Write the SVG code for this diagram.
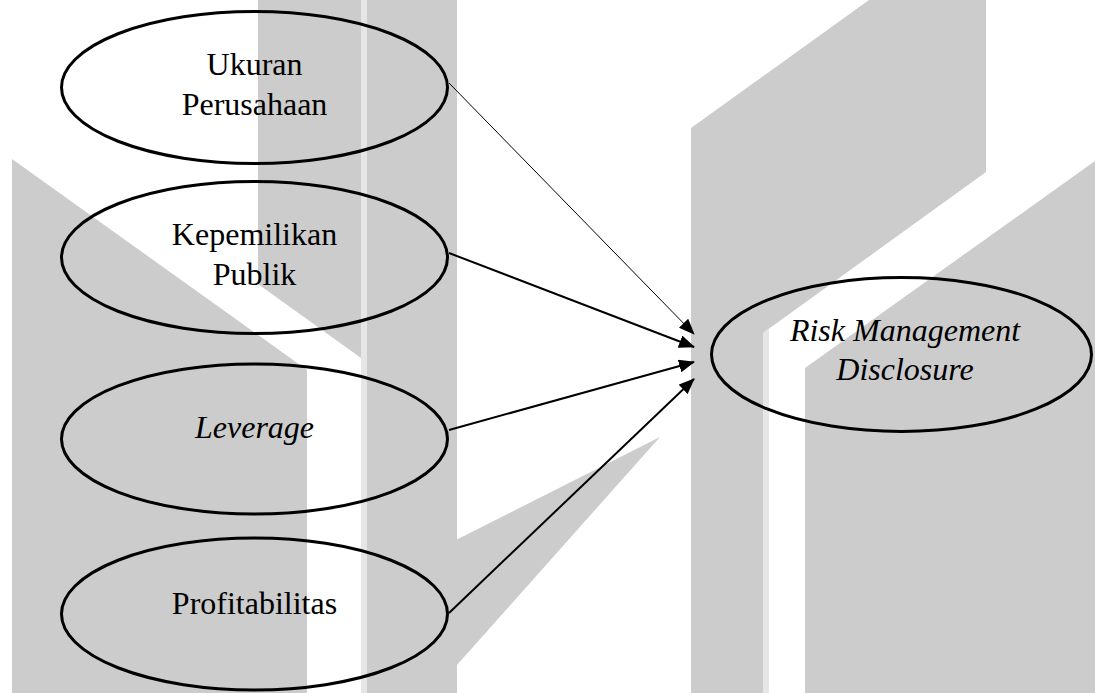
<svg xmlns="http://www.w3.org/2000/svg" width="1095" height="693" viewBox="0 0 1095 693">
<style>
.bg{fill:#cccccc;stroke:none}
.bgl{fill:#e6e6e6;stroke:none}
.node ellipse{fill:none;stroke:#000;stroke-width:3}
.node text{font-family:"Liberation Serif","Times New Roman",serif;font-size:32px;fill:#000;text-anchor:middle}
.it{font-style:italic}
.edge{stroke:#000;fill:none}
</style>
<defs>
<marker id="arr" markerUnits="userSpaceOnUse" markerWidth="16" markerHeight="13" refX="15" refY="6.5" orient="auto">
<path d="M0,0 L16,6.5 L0,13 z" fill="#000"/>
</marker>
</defs>
<rect width="1095" height="693" fill="#fff"/>
<g id="watermark">
<polygon class="bg" points="12,159 307,370 307,693 12,693"/>
<polygon class="bg" points="258,0 361,0 361,358 258,284"/>
<rect class="bgl" x="361" y="0" width="6" height="693"/>
<rect class="bg" x="367" y="0" width="90" height="693"/>
<polygon class="bg" points="456,540 660,437 456,666"/>
<polygon class="bg" points="691,128 869,0 986,0 986,172 763,333 763,693 691,693"/>
<polygon class="bgl" points="763,333 769,329 769,693 763,693"/>
<polygon class="bg" points="805,368 1095,161 1095,693 805,693"/>
</g>
<g id="connectors">
<line class="edge" x1="449" y1="83" x2="694" y2="334" stroke-width="1" marker-end="url(#arr)"/>
<line class="edge" x1="449" y1="253" x2="694" y2="347" stroke-width="2" marker-end="url(#arr)"/>
<line class="edge" x1="449" y1="430" x2="694" y2="362" stroke-width="2" marker-end="url(#arr)"/>
<line class="edge" x1="449" y1="613" x2="694" y2="379" stroke-width="2" marker-end="url(#arr)"/>
</g>
<g id="ukuran" class="node">
<ellipse cx="254.5" cy="87.5" rx="193" ry="76"/>
<text x="254.5" y="75">Ukuran</text>
<text x="254.5" y="115">Perusahaan</text>
</g>
<g id="kepemilikan" class="node">
<ellipse cx="254.5" cy="257.5" rx="193" ry="76"/>
<text x="254.5" y="245">Kepemilikan</text>
<text x="254.5" y="285">Publik</text>
</g>
<g id="leverage" class="node">
<ellipse cx="254.5" cy="439" rx="193" ry="75"/>
<text x="254.5" y="438" class="it">Leverage</text>
</g>
<g id="profitabilitas" class="node">
<ellipse cx="254.5" cy="614" rx="193" ry="76"/>
<text x="254.5" y="614">Profitabilitas</text>
</g>
<g id="rmd" class="node">
<ellipse cx="901.5" cy="354.5" rx="190" ry="77"/>
<text x="905" y="341" class="it">Risk Management</text>
<text x="905" y="380" class="it">Disclosure</text>
</g>
</svg>
